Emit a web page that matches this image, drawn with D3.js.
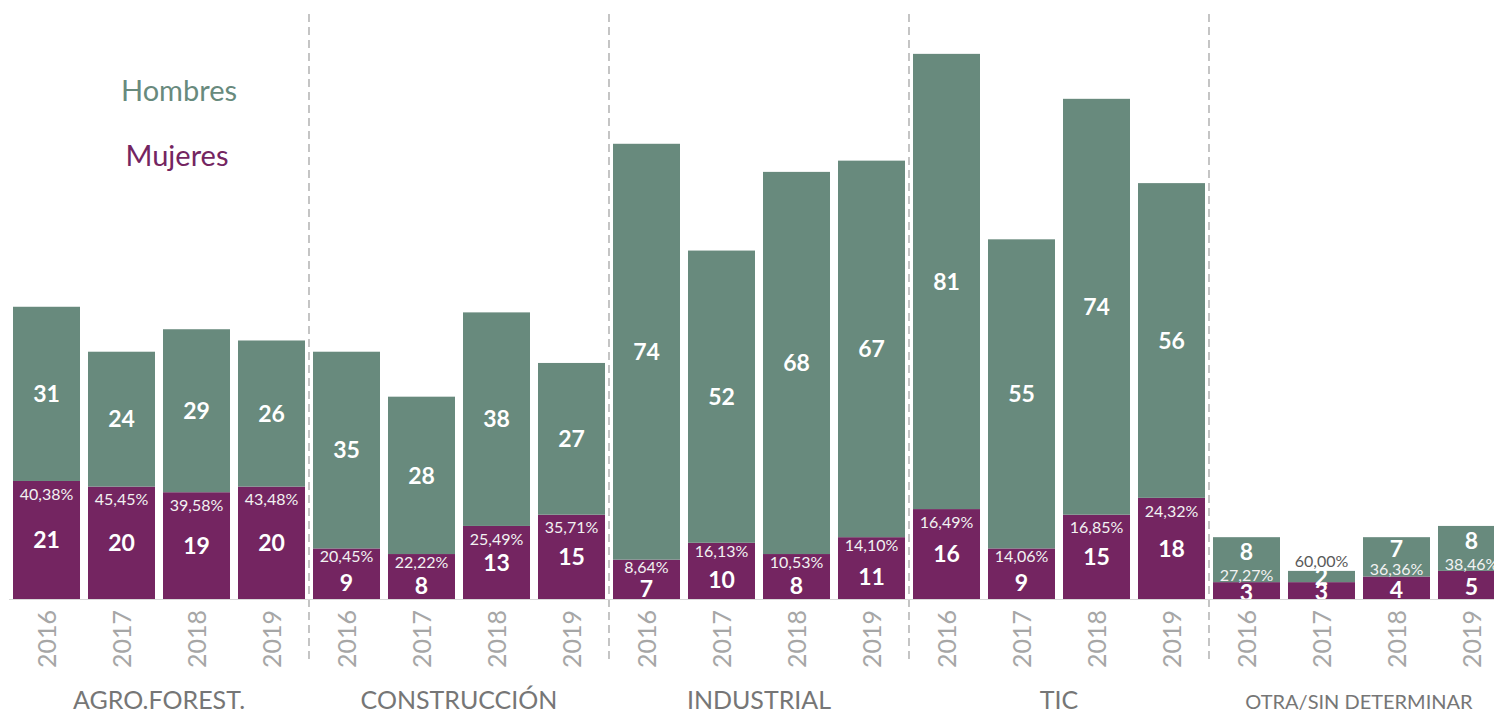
<!DOCTYPE html>
<html>
<head>
<meta charset="utf-8">
<script src="https://cdn.jsdelivr.net/npm/d3@7"></script>
<style>
  body { margin: 0; background: #fff; }
  svg { display: block; font-family: Lato, "Open Sans", sans-serif; }
</style>
</head>
<body>
<div id="chart"></div>
<script>
// sectors and years
var sectors = ["AGRO.FOREST.", "CONSTRUCCIÓN", "INDUSTRIAL", "TIC", "OTRA/SIN DETERMINAR"];
var years = ["2016", "2017", "2018", "2019"];

// counts per sector, one value per year
var mujeres = [
  [21, 20, 19, 20],
  [9, 8, 13, 15],
  [7, 10, 8, 11],
  [16, 9, 15, 18],
  [3, 3, 4, 5]
];
var hombres = [
  [31, 24, 29, 26],
  [35, 28, 38, 27],
  [74, 52, 68, 67],
  [81, 55, 74, 56],
  [8, 2, 7, 8]
];

var width = 1494, height = 716,
    baseY = 599;

var green = "#688a7d", purple = "#742561";

var data = [];
sectors.forEach(function(s, i) {
  years.forEach(function(y, j) {
    var m = mujeres[i][j], h = hombres[i][j];
    data.push({ key: s + "|" + y, sector: s, year: y, m: m, h: h, pct: m / (m + h) * 100 });
  });
});

var x = d3.scaleBand()
    .domain(data.map(function(d) { return d.key; }))
    .range([9, 1509])
    .paddingInner(8 / 75)
    .paddingOuter(4 / 75);

var y = d3.scaleLinear()
    .domain([0, 100])
    .range([baseY, baseY - 562]);

var svg = d3.select("#chart").append("svg")
    .attr("width", width)
    .attr("height", height);

var gap = x.step() * x.paddingInner();

// dashed separators between sectors
sectors.slice(1).forEach(function(s) {
  var sx = x(s + "|" + years[0]) - gap / 2;
  svg.append("line")
    .attr("x1", sx).attr("x2", sx)
    .attr("y1", 14).attr("y2", 660)
    .style("stroke", "#a6a6a6")
    .style("stroke-width", 1.3)
    .style("stroke-dasharray", "8,5");
});

var bars = svg.selectAll(".bar")
    .data(data)
  .enter().append("g")
    .attr("class", "bar");

bars.append("rect")
    .attr("x", function(d) { return x(d.key); })
    .attr("y", function(d) { return y(d.m); })
    .attr("width", x.bandwidth())
    .attr("height", function(d) { return baseY - y(d.m); })
    .style("fill", purple);

bars.append("rect")
    .attr("x", function(d) { return x(d.key); })
    .attr("y", function(d) { return y(d.m + d.h); })
    .attr("width", x.bandwidth())
    .attr("height", function(d) { return y(d.m) - y(d.m + d.h); })
    .style("fill", green);

// baseline
svg.append("line")
  .attr("x1", 9).attr("x2", width)
  .attr("y1", baseY + 0.5).attr("y2", baseY + 0.5)
  .style("stroke", "#d9d9d9")
  .style("stroke-width", 1);

var cx = function(d) { return x(d.key) + x.bandwidth() / 2; };

// label placement depending on the size of each segment
function layout(d) {
  var b = y(d.m), top = y(d.m + d.h);
  var hW = baseY - b, hH = b - top;
  if (hW >= 70) return { pct: b + 13, num: (b + baseY) / 2, men: (top + b) / 2, out: false };
  if (hW >= 35) return { pct: b + 8, num: (b + 18 + baseY) / 2, men: (top + b) / 2, out: false };
  if (hH < 20) return { pct: top - 10, num: (b + baseY) / 2 + 1, men: (top + b) / 2, out: true };
  return { pct: b - 7, num: (b + baseY) / 2 + 2, men: (top + b - 16) / 2, out: false };
}

bars.append("text")
    .attr("x", cx)
    .attr("y", function(d) { return layout(d).men; })
    .attr("dy", "0.36em")
    .attr("text-anchor", "middle")
    .style("fill", "#fff")
    .style("font-weight", "bold")
    .style("font-size", "23px")
    .text(function(d) { return d.h; });

bars.append("text")
    .attr("x", cx)
    .attr("y", function(d) { return layout(d).num; })
    .attr("dy", "0.36em")
    .attr("text-anchor", "middle")
    .style("fill", "#fff")
    .style("font-weight", "bold")
    .style("font-size", "23px")
    .text(function(d) { return d.m; });

bars.append("text")
    .attr("x", cx)
    .attr("y", function(d) { return layout(d).pct; })
    .attr("dy", "0.36em")
    .attr("text-anchor", "middle")
    .style("fill", function(d) { return layout(d).out ? "#595959" : "#f2f2f2"; })
    .style("font-size", "16px")
    .text(function(d) { return d.pct.toFixed(2).replace(".", ",") + "%"; });

// year labels, rotated
bars.append("text")
    .attr("transform", function(d) { return "translate(" + cx(d) + ",610) rotate(-90)"; })
    .attr("dy", "0.36em")
    .attr("text-anchor", "end")
    .style("fill", "#a6a6a6")
    .style("font-size", "25px")
    .text(function(d) { return d.year; });

// sector labels
sectors.forEach(function(s, i) {
  var x0 = x(s + "|" + years[0]), x1 = x(s + "|" + years[years.length - 1]) + x.bandwidth();
  svg.append("text")
    .attr("x", (x0 + x1) / 2)
    .attr("y", 709)
    .attr("text-anchor", "middle")
    .style("fill", "#767676")
    .style("font-size", i == 4 ? "20px" : "25px")
    .text(s);
});

// legend
svg.append("text")
  .attr("x", 179).attr("y", 101)
  .attr("text-anchor", "middle")
  .style("fill", green)
  .style("font-size", "29px")
  .text("Hombres");

svg.append("text")
  .attr("x", 177).attr("y", 166)
  .attr("text-anchor", "middle")
  .style("fill", purple)
  .style("font-size", "29px")
  .text("Mujeres");
</script>
</body>
</html>
